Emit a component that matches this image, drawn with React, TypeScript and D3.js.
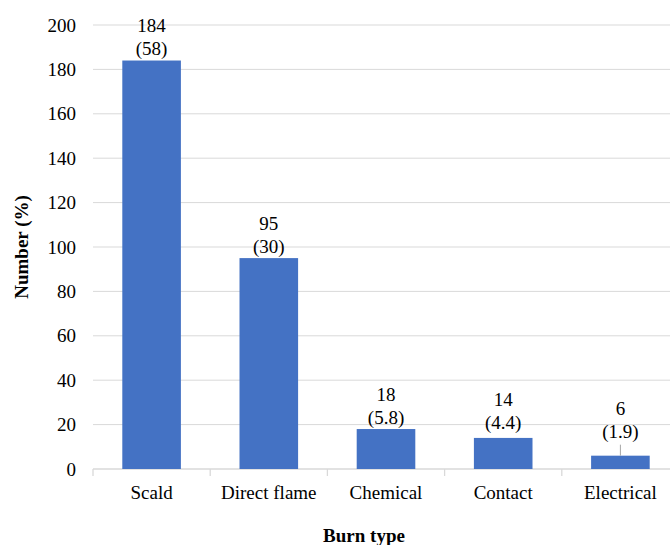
import React from "react";
import * as d3 from "d3";

const categories = ["Scald", "Direct flame", "Chemical", "Contact", "Electrical"];
const counts = [184, 95, 18, 14, 6];
const percents = ["58", "30", "5.8", "4.4", "1.9"];
const yTicks = [0, 20, 40, 60, 80, 100, 120, 140, 160, 180, 200];

// extra lift (px) for labels Excel moved off the bar, plus leader line flag
const labelLift = [0, 0, 0, 4, 12];
const leader = [false, false, false, false, true];

const W = 670;
const H = 545;
const margin = { left: 93, right: -9, top: 25, bottom: 76 };
const barColor = "#4472C4";
const gridColor = "#d9d9d9";
const font = "Liberation Serif";
const fs = 19;

export default function App() {
  const x = d3.scaleBand()
    .domain(categories)
    .range([margin.left, W - margin.right])
    .paddingInner(0.5)
    .paddingOuter(0.25);

  const y = d3.scaleLinear()
    .domain([0, 200])
    .range([H - margin.bottom, margin.top]);

  const y0 = y(0);
  const step = x.step();
  const bounds = categories.map((_, i) => margin.left + i * step);
  bounds.push(margin.left + categories.length * step);

  return (
    <svg width={W} height={H} style={{ position: "absolute", left: 0, top: 0, background: "#fff" }}>
      <g fontFamily={font}>
        {yTicks.map((t) => (
          <g key={t}>
            {t > 0 && (
              <line x1={margin.left} x2={W} y1={y(t)} y2={y(t)} stroke={gridColor} strokeWidth={1} />
            )}
            <text x={76} y={y(t)} dy="0.35em" textAnchor="end" fontSize={fs} fill="#000">{t}</text>
          </g>
        ))}
        <line x1={margin.left} x2={W} y1={y0} y2={y0} stroke={gridColor} strokeWidth={1.3} />
        {bounds.map((b, i) => (
          <line key={i} x1={b} x2={b} y1={y0} y2={y0 + 7} stroke={gridColor} strokeWidth={1.3} />
        ))}
        {categories.map((c, i) => {
          const bx = x(c) as number;
          const cx = bx + x.bandwidth() / 2;
          const top = y(counts[i]);
          const pY = top - 12 - labelLift[i];
          return (
            <g key={c}>
              <rect x={bx} y={top} width={x.bandwidth()} height={y0 - top} fill={barColor} />
              {leader[i] && (
                <line x1={cx} x2={cx} y1={pY + 13} y2={top} stroke="#a6a6a6" strokeWidth={1} />
              )}
              <text x={cx} y={pY} dy="0.35em" textAnchor="middle" fontSize={fs} fill="#000">
                ({percents[i]})
              </text>
              <text x={cx} y={pY - 23} dy="0.35em" textAnchor="middle" fontSize={fs} fill="#000">
                {counts[i]}
              </text>
              <text x={cx} y={492} dy="0.35em" textAnchor="middle" fontSize={fs} fill="#000">{c}</text>
            </g>
          );
        })}
        <text x={364} y={535} dy="0.35em" textAnchor="middle" fontSize={fs} fontWeight="bold" fill="#000">
          Burn type
        </text>
        <text transform={`translate(21,${(margin.top + y0) / 2}) rotate(-90)`} dy="0.35em" textAnchor="middle"
          fontSize={fs} fontWeight="bold" fill="#000">
          Number (%)
        </text>
      </g>
    </svg>
  );
}
